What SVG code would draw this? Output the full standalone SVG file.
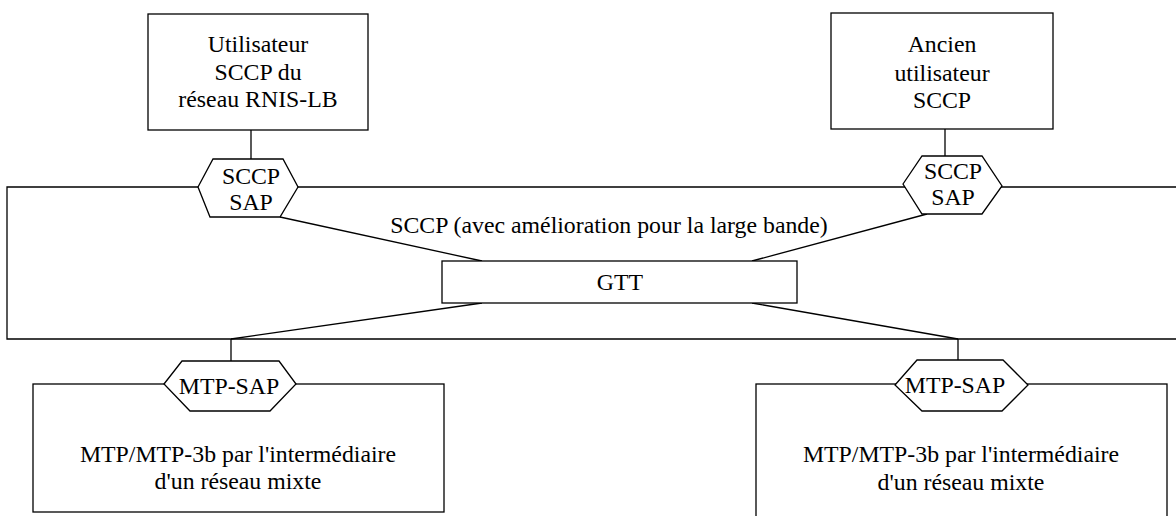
<svg xmlns="http://www.w3.org/2000/svg" width="1176" height="516" viewBox="0 0 1176 516">
<style>
.s{fill:none;stroke:#000;stroke-width:1.3}
.b{fill:#fff;stroke:#000;stroke-width:1.3}
text{font-family:'Liberation Serif','Times New Roman','DejaVu Serif',serif;font-size:23.8px;fill:#000;text-anchor:middle}
</style>
<rect width="1176" height="516" fill="#fff"/>
<g id="sccp-layer">
<path class="s" d="M1180,187 H7 V339 H1180"/>
<text x="609" y="233">SCCP (avec amélioration pour la large bande)</text>
</g>
<g id="connectors">
<line class="s" x1="251" y1="130" x2="251" y2="159"/>
<line class="s" x1="945" y1="129" x2="945" y2="156"/>
<line class="s" x1="280" y1="217" x2="482" y2="261"/>
<line class="s" x1="927" y1="214" x2="752" y2="261"/>
<line class="s" x1="482" y1="303" x2="231" y2="339"/>
<line class="s" x1="752" y1="303" x2="958" y2="339"/>
<line class="s" x1="231" y1="339" x2="231" y2="361"/>
<line class="s" x1="958" y1="339" x2="958" y2="360"/>
</g>
<g id="user-bisdn">
<rect class="b" x="148" y="14" width="220" height="116"/>
<text x="258" y="52">Utilisateur</text>
<text x="258" y="80">SCCP du</text>
<text x="258" y="107">réseau RNIS-LB</text>
</g>
<g id="user-legacy">
<rect class="b" x="831" y="13" width="222" height="116"/>
<text x="942" y="52">Ancien</text>
<text x="942" y="81">utilisateur</text>
<text x="942" y="108">SCCP</text>
</g>
<g id="sccp-sap-left">
<polygon class="b" points="198,187 213,159 283,159 298,187 280,217 210,217"/>
<text x="251" y="184">SCCP</text>
<text x="251" y="210">SAP</text>
</g>
<g id="sccp-sap-right">
<polygon class="b" points="903,184 922,156 982,156 1002,186 982,214 922,214"/>
<text x="953" y="179">SCCP</text>
<text x="953" y="205">SAP</text>
</g>
<g id="gtt">
<rect class="b" x="442" y="261" width="355" height="42"/>
<text x="620" y="290">GTT</text>
</g>
<g id="mtp-left">
<rect class="b" x="33" y="384" width="411" height="128"/>
<text x="238" y="462">MTP/MTP-3b par l'intermédiaire</text>
<text x="238" y="489">d'un réseau mixte</text>
</g>
<g id="mtp-sap-left">
<polygon class="b" points="164,384 182,361 279,361 296,384 270,411 190,411"/>
<text x="229" y="394">MTP-SAP</text>
</g>
<g id="mtp-right">
<rect class="b" x="756" y="384" width="411" height="140"/>
<text x="961" y="462">MTP/MTP-3b par l'intermédiaire</text>
<text x="961" y="490">d'un réseau mixte</text>
</g>
<g id="mtp-sap-right">
<polygon class="b" points="895,385 917,360 1003,360 1028,385 1002,411 922,411"/>
<text x="955" y="393">MTP-SAP</text>
</g>
</svg>
